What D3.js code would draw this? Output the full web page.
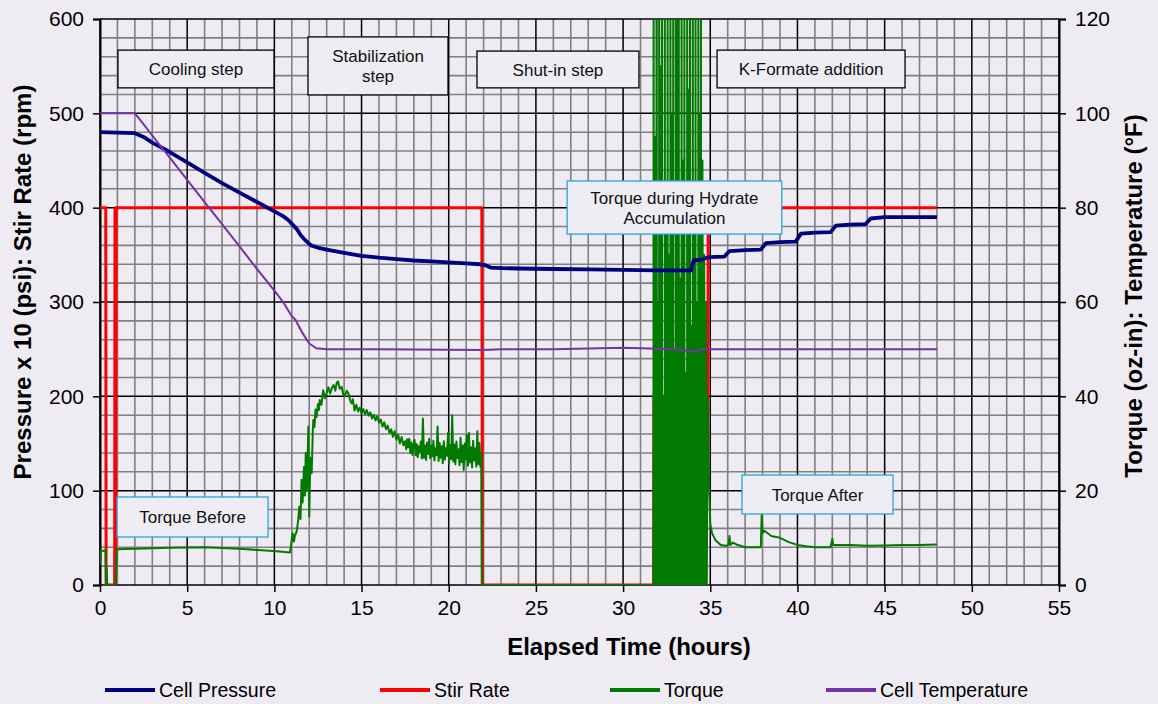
<!DOCTYPE html>
<html>
<head>
<meta charset="utf-8">
<script src="https://cdn.jsdelivr.net/npm/d3@7"></script>
<style>
  html, body { margin: 0; padding: 0; background: #efebf3; }
  svg { display: block; font-family: "Liberation Sans", Arial, sans-serif; }
</style>
</head>
<body>
<svg id="chart" width="1158" height="704"></svg>
<script>
// ---- Series data -------------------------------------------------------
// Cell pressure, psi x 10 (left axis) : [hours, value]
const pressure = [
  [0,480],[1,479.5],[2,479],[2.5,475],[3,469],[4,459],[5,448],[6,437],[7,426],
  [7.5,421],[8,416],[9,406],[10,396],[10.5,391],[10.8,387],[11.1,381],[11.3,377],
  [11.5,371],[11.8,365],[12.1,360],[12.6,357],[13,355.5],[14,352],[15,349],
  [16,347],[17,345.5],[18,344],[19,343],[20,342],[21,341],[21.8,340],[22.1,339],
  [22.4,336.5],[23,336],[24,335.5],[26,335],[28,334.5],[30,334],[32,333.5],
  [33.9,333.5],[33.95,338],[34.05,344],[34.5,345],[34.9,347.5],[35.8,348],
  [36.1,354],[37,355],[37.9,355.5],[38.2,362.5],[39,363.5],[39.9,364],[40.2,372.5],
  [41,373.5],[41.9,374],[42.2,381],[43,382],[43.9,382.5],[44.2,388.5],[45,390],
  [46,390],[48,390]
];

// Stir rate, rpm (left axis)
const stirRate = [
  [0,400],[0.33,400],[0.35,0],[0.84,0],[0.86,400],[0.89,0],[0.93,400],[21.9,400],
  [21.93,0],[31.75,0],[31.77,200],[31.95,200],[31.97,0],[32.1,0],[32.12,200],
  [32.3,200],[32.32,0],[32.45,0],[32.47,200],[32.62,200],[32.64,0],[32.8,0],
  [32.82,200],[32.98,200],[33.0,0],[33.15,0],[33.17,200],[33.32,200],[33.34,0],
  [33.5,0],[33.52,200],[33.68,200],[33.7,0],[33.85,0],[33.87,200],[34.0,200],
  [34.02,0],[34.7,0],[34.72,148],[34.86,148],[34.88,400],[48,400]
];

// Torque, oz-in (right axis)
const torque = [
  [0,7],[0.02,4.5],[0.05,7.2],[0.32,7.3],[0.35,0],[0.38,3.6],[0.42,0],[0.9,0],
  [0.93,3],[0.97,7.6],[2,7.7],[4,7.9],[6,8.0],[8,7.7],[9.5,7.3],[10.3,7.1],[10.9,6.9],
  [11.05,11],[11.12,9.2],[11.18,10.5],[11.28,11.3],[11.36,13.5],[11.43,16.6],
  [11.5,14],[11.56,22.3],[11.62,17.5],[11.7,25],[11.75,19],[11.8,28],[11.86,20],
  [11.95,33.6],[12.0,14.5],[12.06,27],[12.14,23.7],[12.2,32],[12.23,35],
  [12.3,33.5],[12.36,37.2],[12.42,35.6],[12.5,38.4],[12.56,37.1],[12.6,39.2],
  [12.7,38.2],[12.8,41.3],[12.9,39.6],[13.0,40.7],[13.1,41.9],[13.2,40.6],
  [13.3,41.8],[13.4,42.4],[13.5,41.2],[13.57,42.8],[13.65,43.2],[13.75,41.6],
  [13.86,42],[13.95,40.4],[14.05,40],[14.15,41.2],[14.25,40.6],[14.35,39.1],
  [14.43,38.5],[14.5,39.4],[14.6,37],[14.7,38.2],[14.8,36.8],[14.9,37.6],
  [15.0,36.4],[15.1,37.3],[15.2,36.2],[15.3,37.1],[15.4,35.9],[15.5,36.6],
  [15.6,35.3],[15.7,36.1],[15.8,34.9],[15.9,35.8],[16.0,34.4],[16.1,35.1],
  [16.2,33.6],[16.3,34.5],[16.4,33.0],[16.5,33.8],[16.6,32.2],[16.7,33.0],
  [16.8,31.4],[16.9,32.6],[17.0,30.8],[17.1,31.9],[17.2,30.0],[17.3,31.4],
  [17.4,29.6],[17.5,30.5],[17.56,28.8],[17.62,30.9],[17.68,29.2],[17.74,31.0],
  [17.8,28.0],[17.86,30.2],[17.92,27.6],[17.98,29.8],[18.04,30.8],[18.1,27.5],
  [18.16,29.9],[18.22,27.1],[18.28,29.4],[18.34,28.2],[18.4,30.4],[18.46,26.8],
  [18.52,35.3],[18.58,27.0],[18.64,29.6],[18.7,26.5],[18.76,30.2],[18.82,27.8],
  [18.88,31.0],[18.94,26.9],[19.0,29.5],[19.06,27.3],[19.12,30.6],[19.18,26.4],
  [19.24,29.0],[19.3,27.5],[19.36,33.6],[19.42,26.3],[19.48,30.1],[19.54,27.0],
  [19.6,29.4],[19.66,25.8],[19.72,30.5],[19.78,26.6],[19.84,29.0],[19.9,27.4],
  [19.96,32.2],[20.02,25.9],[20.08,29.7],[20.14,26.7],[20.2,36.0],[20.26,26.2],
  [20.32,29.8],[20.38,25.6],[20.44,30.4],[20.5,26.9],[20.56,28.8],[20.62,25.4],
  [20.68,31.2],[20.74,26.1],[20.8,29.6],[20.86,24.4],[20.92,30.0],[20.98,26.6],
  [21.04,31.8],[21.1,25.3],[21.16,32.3],[21.22,26.0],[21.28,29.2],[21.34,24.9],
  [21.4,30.6],[21.46,26.4],[21.52,29.0],[21.58,25.1],[21.64,32.6],[21.7,25.6],
  [21.76,30.1],[21.82,25.0],[21.87,27.9],[21.9,0],[31.74,0],
  // hydrate accumulation: torque repeatedly spikes past the axis limit
  [31.75,150],[31.76,0],[31.82,0],[31.83,95],[31.84,2],
  [31.91,0],[31.915,150],[31.92,3],[31.98,0],[31.99,60],[32.0,0],
  [32.07,0],[32.075,150],[32.08,0],[32.14,4],[32.15,110],[32.16,0],
  [32.23,0],[32.235,150],[32.24,2],[32.3,0],[32.31,40],[32.32,0],
  [32.39,0],[32.395,150],[32.4,0],[32.46,3],[32.47,80],[32.48,0],
  [32.55,0],[32.555,150],[32.56,5],[32.62,0],[32.63,70],[32.64,0],
  [32.71,0],[32.715,150],[32.72,0],[32.78,2],[32.79,100],[32.8,0],
  [32.87,0],[32.875,150],[32.88,4],[32.94,0],[32.95,50],[32.96,0],
  [33.03,0],[33.035,150],[33.04,0],[33.1,3],[33.11,120],[33.12,0],
  [33.19,0],[33.195,150],[33.2,2],[33.26,0],[33.27,65],[33.28,0],
  [33.35,0],[33.355,150],[33.36,0],[33.42,4],[33.43,90],[33.44,0],
  [33.51,0],[33.515,150],[33.52,3],[33.58,0],[33.59,45],[33.6,0],
  [33.67,0],[33.675,150],[33.68,0],[33.74,2],[33.75,105],[33.76,0],
  [33.83,0],[33.835,150],[33.84,5],[33.9,0],[33.91,55],[33.92,0],
  [33.99,0],[33.995,150],[34.0,0],[34.06,3],[34.07,85],[34.08,0],
  [34.15,0],[34.155,150],[34.16,2],[34.22,0],[34.23,60],[34.24,0],
  [34.31,0],[34.315,150],[34.32,0],[34.38,4],[34.39,100],[34.4,0],
  [34.46,0],[34.465,150],[34.47,0],[34.52,0],[34.55,90],[34.6,0],[34.65,70],
  [34.7,0],[34.75,60],[34.8,0],[34.85,40],[34.9,26],[35.0,13],[35.1,11],
  [35.3,9.5],[35.6,8.5],
  [35.9,8.3],[36.05,8.5],[36.1,10.4],[36.15,8.5],[36.3,9],[36.5,8.6],[37.0,8],
  [37.5,8],[37.9,8],[37.95,15],[38.0,11],[38.1,11.5],[38.5,10.4],[39,10],
  [39.5,9.1],[40,8.5],[40.5,8.2],[41,8],[41.9,8],[42.0,9.8],[42.05,8.5],[43,8.5],
  [44,8.3],[45,8.4],[46,8.5],[47,8.5],[48,8.6]
];

// Cell temperature, degF (right axis)
const temperature = [
  [0,100],[2,100],[2.3,98.6],[3,95.3],[4,90.6],[5,85.9],[6,81.2],[7,76.5],[8,71.8],
  [9,67],[10,62.4],[10.5,60],[11,57],[11.2,56.3],[11.6,53.5],[12,51.2],[12.4,50.2],
  [13,50],[16,50],[20,49.9],[22,49.8],[23,50],[26,50],[30,50.3],[33,50],[34.2,49.4],
  [34.4,50],[36,50],[40,50],[44,50],[48,50]
];

// ---- Axis ticks ---------------------------------------------------------
const timeTicks = [0,5,10,15,20,25,30,35,40,45,50,55];
const leftTicks = [0,100,200,300,400,500,600];
const rightTicks = [0,20,40,60,80,100,120];

// ---- Legend / annotations ----------------------------------------------
const seriesNames = ["Cell Pressure", "Stir Rate", "Torque", "Cell Temperature"];
const seriesColors = ["#000080", "#ff0000", "#007a00", "#7432a8"];
const phaseLabels = [["Cooling step"], ["Stabilization", "step"], ["Shut-in step"], ["K-Formate addition"]];
const torqueLabels = [["Torque during Hydrate", "Accumulation"], ["Torque Before"], ["Torque After"]];

// ---- Layout ------------------------------------------------------------
const svg = d3.select("#chart");
const W = 1158, H = 704;
const plot = { left: 100, right: 1059, top: 19, bottom: 585 };

svg.append("rect").attr("width", W).attr("height", H).attr("fill", "#efebf3");

const x = d3.scaleLinear().domain([0, 55]).range([plot.left, plot.right]);
const yL = d3.scaleLinear().domain([0, 600]).range([plot.bottom, plot.top]);
const yR = d3.scaleLinear().domain([0, 120]).range([plot.bottom, plot.top]);

// Grid: minor lines every hour / every 20 units, major every 5 h / 100 units
const gridMinor = svg.append("g");
const gridMajor = svg.append("g");
d3.range(0, 56, 1).forEach(t => {
  const major = t % 5 === 0;
  (major ? gridMajor : gridMinor).append("line")
    .attr("x1", x(t)).attr("x2", x(t)).attr("y1", plot.top).attr("y2", plot.bottom)
    .attr("stroke", major ? "#000" : "#808080").attr("stroke-width", major ? 1.5 : 1.6);
});
d3.range(0, 601, 20).forEach(v => {
  const major = v % 100 === 0;
  (major ? gridMajor : gridMinor).append("line")
    .attr("x1", plot.left).attr("x2", plot.right).attr("y1", yL(v)).attr("y2", yL(v))
    .attr("stroke", major ? "#000" : "#808080").attr("stroke-width", major ? 1.5 : 1.6);
});

// Axes
const axisFont = 21;
const gL = svg.append("g").attr("transform", `translate(${plot.left},0)`)
  .call(d3.axisLeft(yL).tickValues(leftTicks).tickSize(7).tickPadding(9));
const gR = svg.append("g").attr("transform", `translate(${plot.right},0)`)
  .call(d3.axisRight(yR).tickValues(rightTicks).tickSize(7).tickPadding(9));
const gB = svg.append("g").attr("transform", `translate(0,${plot.bottom})`)
  .call(d3.axisBottom(x).tickValues(timeTicks).tickSize(7).tickPadding(8));
[gL, gR, gB].forEach(g => {
  g.select(".domain").attr("stroke", "#000").attr("stroke-width", 2);
  g.selectAll(".tick line").attr("stroke", "#000").attr("stroke-width", 1.5);
  g.selectAll("text").attr("font-size", axisFont).attr("fill", "#000")
    .attr("font-family", "Liberation Sans, Arial, sans-serif");
});
gB.selectAll(".domain").remove();
gB.selectAll("text").attr("dy", "0.72em");

// Axis titles
svg.append("text").attr("transform", "translate(31,282) rotate(-90)")
  .attr("text-anchor", "middle").attr("font-size", 24).attr("font-weight", "bold")
  .text("Pressure x 10 (psi): Stir Rate (rpm)");
svg.append("text").attr("transform", "translate(1142,296) rotate(-90)")
  .attr("text-anchor", "middle").attr("font-size", 24).attr("font-weight", "bold")
  .text("Torque (oz-in): Temperature (°F)");
svg.append("text").attr("x", 629).attr("y", 655)
  .attr("text-anchor", "middle").attr("font-size", 24).attr("font-weight", "bold")
  .text("Elapsed Time (hours)");

// Annotation boxes, placed in data units (hours, left-axis units)
const boxFont = 17;
function box(g, t0, t1, v0, v1, lines, stroke) {
  const bx = x(t0), by = yL(v0), bw = x(t1) - x(t0), bh = yL(v1) - yL(v0);
  g.append("rect").attr("x", bx).attr("y", by).attr("width", bw).attr("height", bh)
    .attr("fill", "#efedf4").attr("stroke", stroke).attr("stroke-width", 1.3);
  const lh = 20;
  const cy = by + bh / 2 - (lines.length - 1) * lh / 2;
  lines.forEach((s, i) => {
    g.append("text").attr("x", bx + bw / 2).attr("y", cy + i * lh).attr("dy", "0.36em")
      .attr("text-anchor", "middle").attr("font-size", boxFont).attr("fill", "#111").text(s);
  });
}

// Series lines
const defs = svg.append("defs");
defs.append("clipPath").attr("id", "plotClip").append("rect")
  .attr("x", plot.left).attr("y", plot.top)
  .attr("width", plot.right - plot.left).attr("height", plot.bottom - plot.top);
const series = svg.append("g").attr("clip-path", "url(#plotClip)");

const phaseG = svg.append("g");
box(phaseG, 1.03, 9.98, 567, 527, phaseLabels[0], "#000");
box(phaseG, 11.93, 19.96, 581, 519.5, phaseLabels[1], "#000");
box(phaseG, 21.62, 30.91, 566, 527, phaseLabels[2], "#000");
box(phaseG, 35.39, 46.17, 567, 527, phaseLabels[3], "#000");

const lineL = d3.line().x(d => x(d[0])).y(d => yL(d[1]));
const lineR = d3.line().x(d => x(d[0])).y(d => yR(d[1]));

series.append("path").datum(stirRate).attr("d", lineL)
  .attr("fill", "none").attr("stroke", seriesColors[1]).attr("stroke-width", 3);
series.append("path").datum(torque).attr("d", lineR)
  .attr("fill", "none").attr("stroke", seriesColors[2]).attr("stroke-width", 2)
  .attr("stroke-linejoin", "round");
series.append("path").datum(pressure).attr("d", lineL)
  .attr("fill", "none").attr("stroke", seriesColors[0]).attr("stroke-width", 3.8)
  .attr("stroke-linejoin", "round");
series.append("path").datum(temperature).attr("d", lineR)
  .attr("fill", "none").attr("stroke", seriesColors[3]).attr("stroke-width", 2)
  .attr("stroke-linejoin", "round");

// Torque call-outs drawn above the series
const calloutG = svg.append("g");
box(calloutG, 26.79, 39.1, 428.3, 372, torqueLabels[0], "#2aa4e0");
box(calloutG, 0.98, 9.64, 93.3, 50.9, torqueLabels[1], "#2aa4e0");
box(calloutG, 36.82, 45.48, 116.6, 75.3, torqueLabels[2], "#2aa4e0");

// Legend
const legendX = [105, 380, 610, 826];
const legend = svg.append("g");
seriesNames.forEach((name, i) => {
  legend.append("line").attr("x1", legendX[i]).attr("x2", legendX[i] + 50)
    .attr("y1", 690).attr("y2", 690)
    .attr("stroke", seriesColors[i]).attr("stroke-width", 4);
  legend.append("text").attr("x", legendX[i] + 54).attr("y", 690).attr("dy", "0.36em")
    .attr("font-size", 19.5).attr("fill", "#000").text(name);
});
</script>
</body>
</html>
